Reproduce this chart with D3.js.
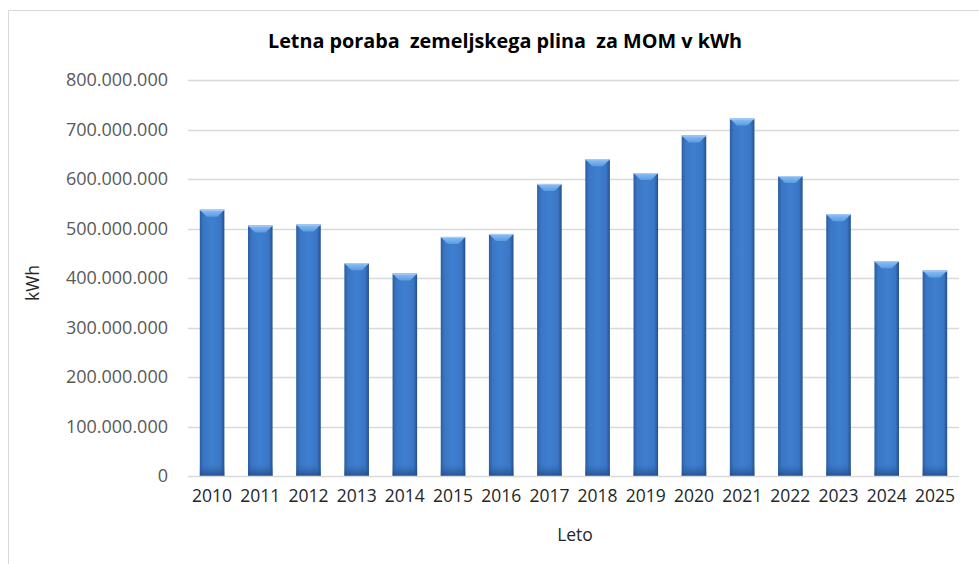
<!DOCTYPE html>
<html><head><meta charset="utf-8">
<script src="https://cdn.jsdelivr.net/npm/d3@7"></script>
<style>body{margin:0;background:#fff;} svg{display:block;font-family:"Open Sans",Lato,sans-serif;}</style>
</head><body>
<svg id="c" width="979" height="564"></svg>
<script>
const years = ["2010","2011","2012","2013","2014","2015","2016","2017","2018","2019","2020","2021","2022","2023","2024","2025"];
const values = [538e6,506e6,508e6,430e6,409e6,483e6,489e6,590e6,640e6,612e6,688e6,722e6,606e6,529e6,434e6,415e6];
const yTicks = [0,100e6,200e6,300e6,400e6,500e6,600e6,700e6,800e6];
const title = "Letna poraba  zemeljskega plina  za MOM v kWh";
const xTitle = "Leto";
const yTitle = "kWh";

const FONT = "'Open Sans',Lato,sans-serif";
const svg = d3.select("#c");
// chart frame (top and left borders)
svg.append("line").attr("x1",8.5).attr("x2",979).attr("y1",10.5).attr("y2",10.5).attr("stroke","#d9d9d9");
svg.append("line").attr("x1",8.5).attr("x2",8.5).attr("y1",10.5).attr("y2",564).attr("stroke","#d9d9d9");

const x = d3.scaleBand().domain(years).range([188,959]).paddingInner(0.49).paddingOuter(0.245);
const y = d3.scaleLinear().domain([0,800e6]).range([476,80]);

const fmt = v => d3.format(",")(v).replace(/,/g,".");

// gridlines
svg.append("g").selectAll("line").data(yTicks.slice(1)).join("line")
  .attr("x1",188).attr("x2",959).attr("y1",d=>Math.round(y(d))+0.5).attr("y2",d=>Math.round(y(d))+0.5)
  .attr("stroke","#d9d9d9").attr("stroke-width",1.5);

// y axis labels
const yAxis = d3.axisLeft(y).tickValues(yTicks).tickFormat(fmt).tickSize(0).tickPadding(20);
const gy = svg.append("g").attr("transform","translate(188,0)").call(yAxis);
gy.select(".domain").remove();
gy.selectAll("text").attr("fill","#595959").style("font-size","18px").style("font-family",FONT);

// gradients
const defs = svg.append("defs");
const g1 = defs.append("linearGradient").attr("id","barG").attr("x1","0").attr("x2","1").attr("y1","0").attr("y2","0");
g1.append("stop").attr("offset","0").attr("stop-color","#2b5d9e");
g1.append("stop").attr("offset","0.15").attr("stop-color","#3a76c4");
g1.append("stop").attr("offset","0.5").attr("stop-color","#3f7fd0");
g1.append("stop").attr("offset","0.85").attr("stop-color","#3a76c4");
g1.append("stop").attr("offset","1").attr("stop-color","#24508c");
const g2 = defs.append("linearGradient").attr("id","bevG").attr("x1","0").attr("x2","0").attr("y1","0").attr("y2","1");
g2.append("stop").attr("offset","0").attr("stop-color","#8cc0f5");
g2.append("stop").attr("offset","1").attr("stop-color","#5b9be3");
const g3 = defs.append("linearGradient").attr("id","botG").attr("x1","0").attr("x2","0").attr("y1","0").attr("y2","1");
g3.append("stop").attr("offset","0").attr("stop-color","#2d62a8").attr("stop-opacity",0);
g3.append("stop").attr("offset","1").attr("stop-color","#1f4a85").attr("stop-opacity",0.8);

const data = years.map((yr,i)=>({yr, v: values[i]}));
const bars = svg.append("g").selectAll("g").data(data).join("g");
bars.append("rect")
  .attr("x",d=>x(d.yr)).attr("width",x.bandwidth())
  .attr("y",d=>y(d.v)).attr("height",d=>y(0)-y(d.v))
  .attr("fill","url(#barG)");
bars.append("rect")
  .attr("x",d=>x(d.yr)).attr("width",x.bandwidth())
  .attr("y",d=>y(0)-12).attr("height",12)
  .attr("fill","url(#botG)");
bars.append("polygon")
  .attr("points",d=>{
    const x0=x(d.yr), w=x.bandwidth(), t=y(d.v), b=7;
    return [[x0,t],[x0+w,t],[x0+w-b,t+b],[x0+b,t+b]].map(p=>p.join(",")).join(" ");
  })
  .attr("fill","url(#bevG)");
bars.append("line")
  .attr("x1",d=>x(d.yr)).attr("x2",d=>x(d.yr)+x.bandwidth())
  .attr("y1",d=>y(d.v)+0.5).attr("y2",d=>y(d.v)+0.5)
  .attr("stroke","#a9cdf5").attr("stroke-width",1);

// baseline
svg.append("line").attr("x1",188).attr("x2",959).attr("y1",476.5).attr("y2",476.5).attr("stroke","#d9d9d9").attr("stroke-width",1.5);

// x axis labels
const xAxis = d3.axisBottom(x).tickSize(0).tickPadding(14);
const gx = svg.append("g").attr("transform","translate(0,476)").call(xAxis);
gx.select(".domain").remove();
gx.selectAll("text").attr("fill","#262626").style("font-size","17.5px").style("font-family",FONT);

// titles
svg.append("text").attr("x",505).attr("y",48).attr("text-anchor","middle")
  .style("white-space","pre").attr("xml:space","preserve")
  .style("font-size","19.8px").style("font-weight","bold").attr("fill","#000").text(title);
svg.append("text").attr("x",575).attr("y",541).attr("text-anchor","middle")
  .style("font-size","17.5px").attr("fill","#262626").text(xTitle);
svg.append("text").attr("transform","translate(39,283) rotate(-90)").attr("text-anchor","middle")
  .style("font-size","17.5px").attr("fill","#262626").text(yTitle);
</script>
</body></html>
